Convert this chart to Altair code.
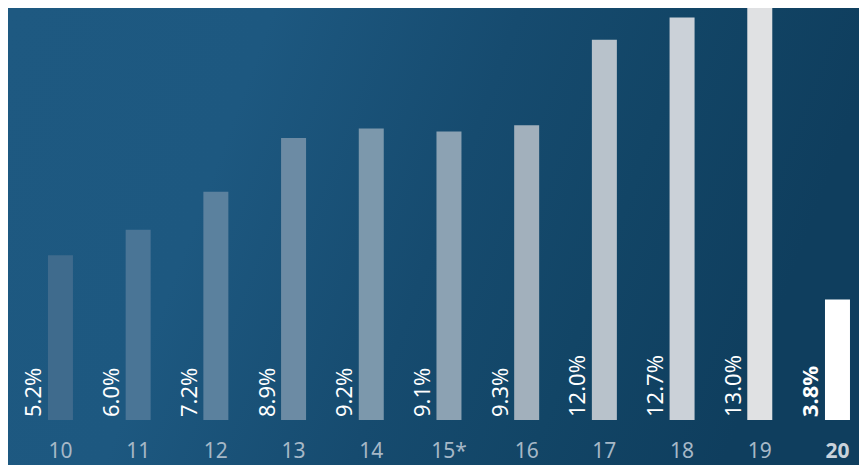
import altair as alt
import pandas as pd

years = ["10", "11", "12", "13", "14", "15*", "16", "17", "18", "19", "20"]
values = [5.2, 6.0, 7.2, 8.9, 9.2, 9.1, 9.3, 12.0, 12.7, 13.0, 3.8]
bar_colors = ["#3f6b8d", "#4a7596", "#5b819e", "#6c8ba4", "#7c98ac", "#8ca2b3",
              "#a2b0bc", "#b8c2cb", "#cbd1d8", "#e0e1e3", "#ffffff"]
highlight = "20"

df = pd.DataFrame({"year": years, "value": values})
df["label"] = [f"{v:.1f}%" for v in values]
df["hl"] = [y == highlight for y in years]

W, H = 851, 412
PAD_B = 45
FONT = "Noto Sans"

x_scale = alt.Scale(domain=years, paddingInner=0.678, paddingOuter=0.315, align=0.816)
y_scale = alt.Scale(domain=[0, 13])

bg = alt.Chart(alt.Data(values=[{}])).mark_rect(
    fill=alt.Gradient(
        gradient="linear",
        stops=[
            alt.GradientStop(color="#1e5981", offset=0),
            alt.GradientStop(color="#1d5880", offset=0.3),
            alt.GradientStop(color="#164b6f", offset=0.58),
            alt.GradientStop(color="#124566", offset=0.78),
            alt.GradientStop(color="#0f3e5e", offset=1),
        ],
        x1=0, x2=1, y1=0, y2=0.2,
    )
).encode(x=alt.value(0), x2=alt.value(W), y=alt.value(0), y2=alt.value(H + PAD_B))

base = alt.Chart(df)

bars = base.mark_bar(size=25).encode(
    x=alt.X("year:N", scale=x_scale, sort=years,
            axis=alt.Axis(
                title=None, domain=False, ticks=False, tickSize=0, grid=False, zindex=1,
                labelAngle=0, labelFont=FONT, labelFontSize=21, labelPadding=20,
                labelColor={"condition": {"test": f"datum.value == '{highlight}'", "value": "#c9d2db"}, "value": "#a6b8c7"},
                labelFontWeight={"condition": {"test": f"datum.value == '{highlight}'", "value": "bold"}, "value": "normal"},
            )),
    y=alt.Y("value:Q", scale=y_scale, axis=None),
    color=alt.Color("year:N", scale=alt.Scale(domain=years, range=bar_colors), legend=None),
)

text_normal = base.transform_filter("!datum.hl").mark_text(
    angle=270, align="left", baseline="alphabetic", dx=3, dy=-19,
    font=FONT, fontSize=22, color="#ffffff"
).encode(
    x=alt.X("year:N", scale=x_scale, sort=years),
    y=alt.datum(0, scale=y_scale),
    text="label:N",
)

text_bold = base.transform_filter("datum.hl").mark_text(
    angle=270, align="left", baseline="alphabetic", dx=3, dy=-19,
    font=FONT, fontSize=22, fontWeight="bold", color="#ffffff"
).encode(
    x=alt.X("year:N", scale=x_scale, sort=years),
    y=alt.datum(0, scale=y_scale),
    text="label:N",
)

chart = alt.layer(bg, bars, text_normal, text_bold).properties(
    width=W, height=H,
    autosize=alt.AutoSizeParams(type="none"),
    padding={"left": 0, "top": 0, "right": 0, "bottom": PAD_B},
    background="#175075",
).configure_view(strokeWidth=0)

chart.save("out.html", embed_options={"renderer": "svg", "actions": False})
